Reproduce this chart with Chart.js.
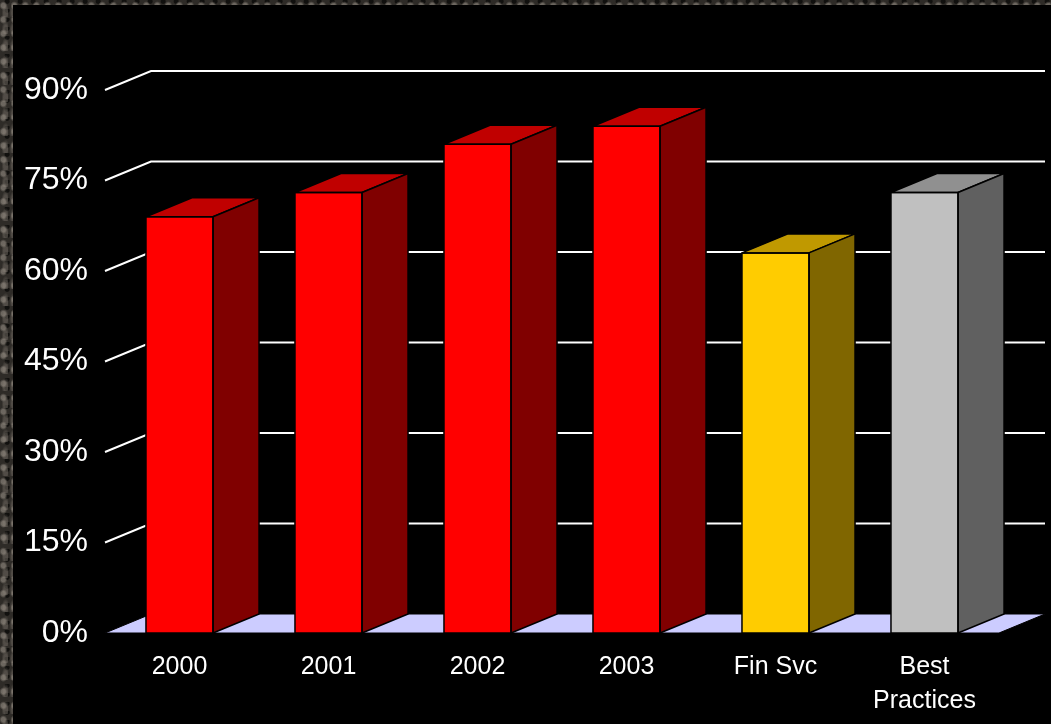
<!DOCTYPE html>
<html>
<head>
<meta charset="utf-8">
<script src="https://cdn.jsdelivr.net/npm/chart.js@4/dist/chart.umd.min.js"></script>
<style>
  html, body { margin: 0; padding: 0; }
  body {
    width: 1051px; height: 724px; overflow: hidden; position: relative;
    background-color: #2e2b27;
    background-image:
      radial-gradient(ellipse at 30% 40%, rgba(150,142,132,.6) 0 2px, transparent 4px),
      radial-gradient(ellipse at 70% 75%, rgba(110,104,96,.55) 0 2px, transparent 4px),
      radial-gradient(circle at 55% 15%, rgba(10,9,8,.8) 0 2px, transparent 3px);
    background-size: 11px 14px, 8px 17px, 13px 9px;
  }
  #panel { position: absolute; left: 13px; top: 5px; width: 1038px; height: 719px; background: #000; }
  #myChart { position: absolute; left: 0; top: 0; }
</style>
</head>
<body>
<div id="panel"></div>
<canvas id="myChart" width="1051" height="724"></canvas>
<script>
// данные
const categories = ['2000', '2001', '2002', '2003', 'Fin Svc', ['Best', 'Practices']];
const values = [69, 73, 81, 84, 63, 73];
const yTicks = [0, 15, 30, 45, 60, 75, 90];

// цвета граней
const frontColors = ['#ff0000', '#ff0000', '#ff0000', '#ff0000', '#ffcc00', '#c0c0c0'];
const topColors = ['#c00000', '#c00000', '#c00000', '#c00000', '#c09900', '#909090'];
const sideColors = ['#800000', '#800000', '#800000', '#800000', '#806600', '#606060'];

const DX = 46, DY = -19;

// сетка и пол в перспективе
const backdrop = {
  id: 'backdrop',
  beforeDatasetsDraw(chart) {
    const ctx = chart.ctx;
    const y = chart.scales.y;
    const left = chart.chartArea.left, right = chart.chartArea.right;
    ctx.save();
    ctx.strokeStyle = '#ffffff';
    ctx.lineWidth = 2;
    yTicks.forEach(v => {
      if (v === 0) return;
      const py = y.getPixelForValue(v);
      ctx.beginPath();
      ctx.moveTo(left, py);
      ctx.lineTo(left + DX, py + DY);
      ctx.lineTo(right + DX, py + DY);
      ctx.stroke();
    });
    // пол
    const p0 = y.getPixelForValue(0);
    ctx.beginPath();
    ctx.moveTo(left, p0);
    ctx.lineTo(left + DX, p0 + DY);
    ctx.lineTo(right + DX, p0 + DY);
    ctx.lineTo(right, p0);
    ctx.closePath();
    ctx.fillStyle = '#ccccff';
    ctx.fill();
    ctx.strokeStyle = '#000000';
    ctx.lineWidth = 1;
    ctx.stroke();
    ctx.restore();
  },
  afterDatasetsDraw(chart) {
    const ctx = chart.ctx;
    const meta = chart.getDatasetMeta(0);
    ctx.save();
    ctx.strokeStyle = '#000000';
    ctx.lineWidth = 1.5;
    ctx.lineJoin = 'round';
    meta.data.forEach((bar, i) => {
      const p = bar.getProps(['x', 'y', 'base', 'width'], true);
      const l = p.x - p.width / 2, r = p.x + p.width / 2;
      // верх
      ctx.beginPath();
      ctx.moveTo(l, p.y);
      ctx.lineTo(l + DX, p.y + DY);
      ctx.lineTo(r + DX, p.y + DY);
      ctx.lineTo(r, p.y);
      ctx.closePath();
      ctx.fillStyle = topColors[i];
      ctx.fill();
      ctx.stroke();
      // бок
      ctx.beginPath();
      ctx.moveTo(r, p.y);
      ctx.lineTo(r + DX, p.y + DY);
      ctx.lineTo(r + DX, p.base + DY);
      ctx.lineTo(r, p.base);
      ctx.closePath();
      ctx.fillStyle = sideColors[i];
      ctx.fill();
      ctx.stroke();
      // перед
      ctx.beginPath();
      ctx.rect(l, p.y, p.width, p.base - p.y);
      ctx.stroke();
    });
    ctx.restore();
  }
};

const ctx = document.getElementById('myChart');
window.myChart = new Chart(ctx, {
  type: 'bar',
  data: {
    labels: categories,
    datasets: [{
      data: values,
      backgroundColor: frontColors,
      borderWidth: 0,
      categoryPercentage: 1,
      barPercentage: 0.45
    }]
  },
  options: {
    responsive: false,
    animation: false,
    layout: { padding: { top: 90, right: 52, left: 0, bottom: 0 } },
    plugins: { legend: { display: false }, tooltip: { enabled: false } },
    scales: {
      x: {
        grid: { display: false },
        border: { display: false },
        ticks: {
          color: '#ffffff',
          padding: 9,
          maxRotation: 0,
          font: { family: 'Arial, "Liberation Sans"', size: 25, lineHeight: 1.36 }
        },
        afterFit(scale) { scale.height = 91; }
      },
      y: {
        min: 0,
        max: 90,
        grid: { display: false },
        border: { display: false },
        ticks: {
          stepSize: 15,
          color: '#ffffff',
          padding: 9,
          font: { family: 'Arial, "Liberation Sans"', size: 32 },
          callback: v => v + '%'
        },
        afterFit(scale) { scale.width = 105; }
      }
    }
  },
  plugins: [backdrop]
});
</script>
</body>
</html>
